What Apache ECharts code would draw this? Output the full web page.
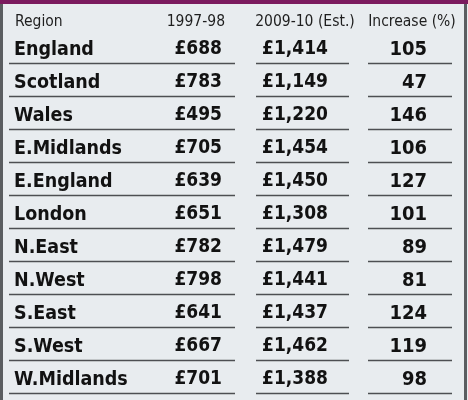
<!DOCTYPE html>
<html>
<head>
<meta charset="utf-8">
<script src="https://cdn.jsdelivr.net/npm/echarts@6/dist/echarts.min.js"></script>
<style>
  html, body { margin: 0; padding: 0; background: #e8ecef; }
  #chart { width: 468px; height: 400px; }
</style>
</head>
<body>
<div id="chart"></div>
<script>
// table data
let headers = ['Region', '1997-98', '2009-10 (Est.)', 'Increase (%)'];
let regions = ['England', 'Scotland', 'Wales', 'E.Midlands', 'E.England', 'London',
               'N.East', 'N.West', 'S.East', 'S.West', 'W.Midlands'];
let spend1997 = [688, 783, 495, 705, 639, 651, 782, 798, 641, 667, 701];
let spend2009 = [1414, 1149, 1220, 1454, 1450, 1308, 1479, 1441, 1437, 1462, 1388];
let increase = [105, 47, 146, 106, 127, 101, 89, 81, 124, 119, 98];

let font = '"DejaVu Sans Condensed", "Liberation Sans Narrow", sans-serif';
let textColor = '#121212';

// column anchors (x in px, axis spans the page width)
let colX = [14, 222, 328, 427];
// underline segments per column
let segs = [[9, 235], [256, 349], [368, 452]];

function money(v) {
    return '£' + v.toLocaleString('en-GB');
}

function textSeries(x, vals, fmt, align, size) {
    return {
        type: 'scatter',
        symbolSize: 0,
        silent: true,
        itemStyle: { opacity: 1 },
        data: regions.map((r, i) => [x, r, vals[i]]),
        label: {
            show: true,
            position: 'inside',
            align: align,
            verticalAlign: 'middle',
            offset: [0, 2],
            fontFamily: font,
            fontWeight: 'bold',
            fontSize: size,
            color: textColor,
            opacity: 1,
            formatter: p => fmt(p.value[2])
        }
    };
}

let chart = echarts.init(document.getElementById('chart'));

let option = {
    animation: false,
    backgroundColor: '#e8ecef',
    grid: { left: 0, right: 0, top: 31, bottom: 6 },
    xAxis: { type: 'value', min: 0, max: 468, show: false },
    yAxis: {
        type: 'category',
        data: regions,
        inverse: true,
        show: false
    },
    graphic: [
        { type: 'rect', left: 0, top: 0, shape: { width: 468, height: 4 }, style: { fill: '#7b1a5e' } },
        { type: 'rect', left: 0, top: 4, shape: { width: 3, height: 396 }, style: { fill: '#5a5d60' } },
        { type: 'rect', left: 464, top: 4, shape: { width: 3, height: 396 }, style: { fill: '#5a5d60' } }
    ].concat(headers.map((h, i) => ({
        type: 'text',
        x: [15, 225, 305, 412][i],
        y: 22,
        style: {
            text: h,
            fontFamily: font,
            fontSize: 15.5,
            fill: '#1e1e1e',
            align: i === 0 ? 'left' : (i === 1 ? 'right' : 'center'),
            verticalAlign: 'middle'
        }
    }))),
    series: [
        textSeries(colX[0], regions, v => v, 'left', 19.5),
        textSeries(colX[1], spend1997, money, 'right', 19),
        textSeries(colX[2], spend2009, money, 'right', 19),
        textSeries(colX[3], increase, v => String(v), 'right', 20),
        {
            // row underlines
            type: 'custom',
            silent: true,
            data: regions.map(r => [0, r]),
            renderItem: function (params, api) {
                let c = api.coord([0, api.value(1)]);
                let h = api.size([0, 1])[1];
                let y = Math.round(c[1] + h / 2) - 0.5;
                return {
                    type: 'group',
                    children: segs.map(s => ({
                        type: 'line',
                        shape: { x1: s[0], y1: y, x2: s[1], y2: y },
                        style: { stroke: '#4d4f52', lineWidth: 1.5 }
                    }))
                };
            }
        }
    ]
};
option && chart.setOption(option);
</script>
</body>
</html>
